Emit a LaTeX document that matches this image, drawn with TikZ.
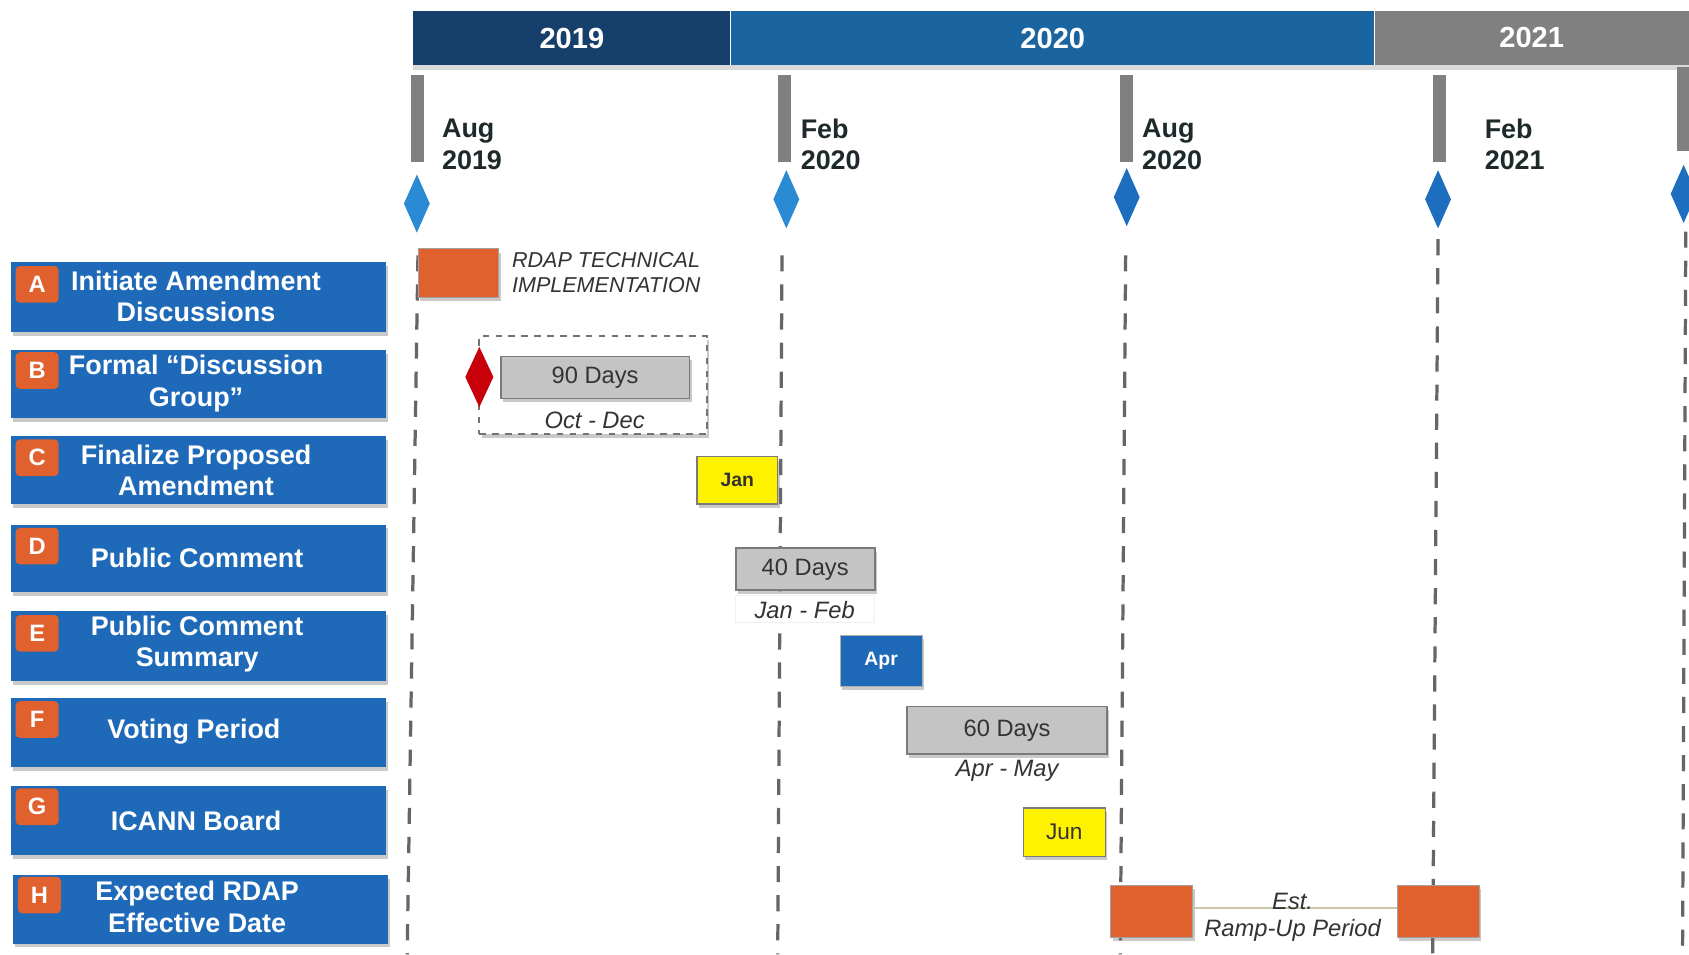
\documentclass[tikz,border=0pt]{standalone}
\usepackage{fontspec}
\setmainfont{Liberation Sans}
\usetikzlibrary{shadows}
\definecolor{yrA}{HTML}{173F6B}
\definecolor{yrB}{HTML}{1A65A0}
\definecolor{yrC}{HTML}{808080}
\definecolor{rowblue}{HTML}{1F6AB8}
\definecolor{badgeor}{HTML}{E0602E}
\definecolor{boxgray}{HTML}{C4C4C4}
\definecolor{edgegray}{HTML}{7A7A7A}
\definecolor{ticgray}{HTML}{808080}
\definecolor{dlight}{HTML}{2A8AD4}
\definecolor{ddark}{HTML}{1E6EC0}
\definecolor{redd}{HTML}{C8000A}
\definecolor{darktext}{HTML}{1E2A2A}
\definecolor{graytext}{HTML}{333333}
\tikzset{
  shad/.style={drop shadow={shadow xshift=1pt,shadow yshift=-1.8pt,opacity=.35,fill=black!60}},
  rowbox/.style={fill=rowblue, minimum width=174pt, inner sep=0pt, shad},
  badge/.style={fill=badgeor, rounded corners=2pt, minimum width=20pt, minimum height=17pt, inner sep=0pt, text=white, font=\bfseries\fontsize{11}{11}\selectfont},
  rowtext/.style={text=white, font=\bfseries\fontsize{12.5}{14.5}\selectfont, align=center, inner sep=0pt},
  yearlbl/.style={text=white, font=\bfseries\fontsize{13.5}{14}\selectfont},
  monthlbl/.style={text=darktext, font=\bfseries\fontsize{12.5}{14.5}\selectfont, align=left, anchor=west, inner sep=0pt},
  vline/.style={draw=black!60, line width=1.5pt, dash pattern=on 7.5pt off 6pt},
  tickbar/.style={fill=ticgray},
  graybox/.style={fill=boxgray, draw=edgegray, line width=0.8pt, inner sep=0pt, text=graytext, font=\fontsize{11}{11}\selectfont, shad},
  yellowbox/.style={fill=yellow, draw=edgegray, line width=0.6pt, inner sep=0pt, text=graytext, shad},
  orbox/.style={fill=badgeor, draw=edgegray!70, line width=0.4pt, inner sep=0pt, shad},
  itlbl/.style={text=graytext, font=\itshape\fontsize{11}{13}\selectfont, inner sep=0pt},
}
\begin{document}
\begin{tikzpicture}[x=0.5pt,y=-0.5pt]
\useasboundingbox (0,0) rectangle (1568,886);
\fill[white] (0,0) rectangle (1568,886);

% header
\fill[black!15] (383,60) rectangle (1568,65);
\node[fill=yrA, minimum width=147.5pt, minimum height=25pt, inner sep=0pt, anchor=north west] (y19) at (383,10) {};
\node[fill=yrB, minimum width=299pt, minimum height=25pt, inner sep=0pt, anchor=north west] (y20) at (678,10) {};
\node[fill=yrC, minimum width=146pt, minimum height=25pt, inner sep=0pt, anchor=north west] (y21) at (1276,10) {};
\draw[white, line width=0.6pt] (678,10) -- (678,60) (1276,10) -- (1276,60);
\node[yearlbl] (t19) at (y19.center) {2019};
\node[yearlbl] (t20) at (y20.center) {2020};
\node[yearlbl] (t21) at (1422,35) {2021};

% ticks
\fill[tickbar] (382,70) rectangle (394,150);
\fill[tickbar] (722,70) rectangle (734,150);
\fill[tickbar] (1040,70) rectangle (1052,150);
\fill[tickbar] (1330,70) rectangle (1342,150);
\fill[tickbar] (1557,62) rectangle (1568,140);

\node[monthlbl] (m1) at (410,134) {Aug\\2019};
\node[monthlbl] (m2) at (743,134) {Feb\\2020};
\node[monthlbl] (m3) at (1060,134) {Aug\\2020};
\node[monthlbl] (m4) at (1378,134) {Feb\\2021};

% diamonds
\fill[dlight] (387,162) -- (399,189) -- (387,216) -- (375,189) -- cycle;
\fill[dlight] (730,158) -- (742,185) -- (730,212) -- (718,185) -- cycle;
\fill[ddark] (1046,156) -- (1058,183) -- (1046,210) -- (1034,183) -- cycle;
\fill[ddark] (1335,158) -- (1347,185) -- (1335,212) -- (1323,185) -- cycle;
\fill[ddark] (1563,153) -- (1575,180) -- (1563,207) -- (1551,180) -- cycle;

% dashed verticals
\draw[vline] (388,237) -- (378,886);
\draw[vline] (726,237) -- (722,886);
\draw[vline] (1045,237) -- (1040,886);
\draw[vline] (1335,222) -- (1330,886);
\draw[vline] (1565,215) -- (1562,886);

% rows
\node[rowbox, minimum height=32.5pt] (rA) at (184,275.5) {};
\node[rowbox, minimum height=31.5pt] (rB) at (184,356.5) {};
\node[rowbox, minimum height=31.5pt] (rC) at (184,436.5) {};
\node[rowbox, minimum height=31.5pt] (rD) at (184,518.5) {};
\node[rowbox, minimum height=32.5pt] (rE) at (184,599.5) {};
\node[rowbox, minimum height=32pt] (rF) at (184,680) {};
\node[rowbox, minimum height=32pt] (rG) at (184,762) {};
\node[rowbox, minimum height=32pt] (rH) at (186,844) {};

\node[badge] (bA) at (34.5,264) {A};
\node[badge] (bB) at (34.5,344) {B};
\node[badge] (bC) at (34.5,425) {C};
\node[badge] (bD) at (34.5,507) {D};
\node[badge] (bE) at (34.5,588) {E};
\node[badge] (bF) at (34.5,668) {F};
\node[badge] (bG) at (34.5,749) {G};
\node[badge] (bH) at (36.5,831) {H};

\node[rowtext] (xA) at (182,275) {Initiate Amendment\\Discussions};
\node[rowtext] (xB) at (182,356) {Formal “Discussion\\Group”};
\node[rowtext] (xC) at (182,437) {Finalize Proposed\\Amendment};
\node[rowtext] (xD) at (183,518) {Public Comment};
\node[rowtext] (xE) at (183,598) {Public Comment\\Summary};
\node[rowtext] (xF) at (180,679) {Voting Period};
\node[rowtext] (xG) at (182,762) {ICANN Board};
\node[rowtext] (xH) at (183,842) {Expected RDAP\\Effective Date};

% A: RDAP technical implementation
\node[orbox, minimum width=37.5pt, minimum height=22.5pt] (oA) at (425.5,253.5) {};
\node[itlbl, font=\itshape\fontsize{10}{12}\selectfont, align=left, anchor=west] (rdap) at (475,253) {RDAP TECHNICAL\\IMPLEMENTATION};

% B
\node[draw=black!55, dashed, line width=0.9pt, minimum width=105.5pt, minimum height=45.5pt, inner sep=0pt, shad, fill=white] (dB) at (550.5,357.5) {};
\fill[redd] (445,322) -- (458,350) -- (445,378) -- (432,350) -- cycle;
\node[graybox, minimum width=87.5pt, minimum height=19.5pt] (g90) at (552.5,350.5) {90 Days};
\node[itlbl] (octdec) at (552,390) {Oct - Dec};

% C
\node[yellowbox, minimum width=37.5pt, minimum height=22pt, font=\bfseries\fontsize{9}{9}\selectfont] (jan) at (684.5,446) {Jan};

% D
\node[graybox, minimum width=64.5pt, minimum height=19.5pt] (g40) at (747.5,528.5) {40 Days};
\node[fill=white, draw=black!6, minimum width=64.5pt, minimum height=12.5pt, inner sep=0pt] (jfbg) at (747.5,565.5) {};
\node[itlbl] (janfeb) at (747,566) {Jan - Feb};

% E
\node[fill=rowblue, draw=edgegray!60, line width=0.4pt, minimum width=38pt, minimum height=23.5pt, inner sep=0pt, text=white, font=\bfseries\fontsize{9}{9}\selectfont, shad] (apr) at (818,613.5) {Apr};

% F
\node[graybox, minimum width=93pt, minimum height=22pt] (g60) at (935,678) {60 Days};
\node[itlbl] (aprmay) at (935,716) {Apr - May};

% G
\node[yellowbox, minimum width=38pt, minimum height=22.5pt, font=\fontsize{10.5}{10.5}\selectfont] (jun) at (988,772.5) {Jun};

% H
\node[orbox, minimum width=38pt, minimum height=24pt] (o1) at (1069,846) {};
\node[orbox, minimum width=38pt, minimum height=24pt] (o2) at (1335,846) {};
\draw[draw=black!20!yellow!30!gray!60, line width=0.6pt] (o1.east |- 0,843) -- (o2.west |- 0,843);
\node[itlbl] (est) at (1200,837) {Est.};
\node[itlbl] (ramp) at (1200,864) {Ramp-Up Period};
\end{tikzpicture}
\end{document}
